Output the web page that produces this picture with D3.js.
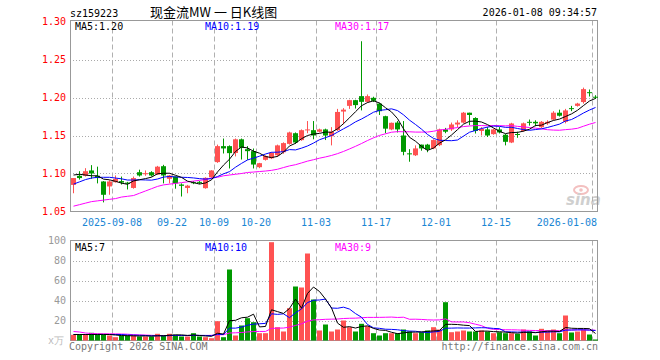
<!DOCTYPE html>
<html><head><meta charset="utf-8">
<script src="https://cdn.jsdelivr.net/npm/d3@7"></script>
<style>
body{margin:0;background:#fff}
svg text{font-family:"DejaVu Sans Mono","Liberation Mono",monospace;font-size:10px}
</style>
</head><body>
<svg id="c" width="660" height="360"></svg>
<script>
// ---------- data ----------
const dates = [
"2025-08-28","2025-08-29","2025-09-01","2025-09-02","2025-09-03","2025-09-04","2025-09-05","2025-09-08","2025-09-09","2025-09-10",
"2025-09-11","2025-09-12","2025-09-15","2025-09-16","2025-09-17","2025-09-18","2025-09-19","2025-09-22","2025-09-23","2025-09-24",
"2025-09-25","2025-09-26","2025-09-29","2025-09-30","2025-10-09","2025-10-10","2025-10-13","2025-10-14","2025-10-15","2025-10-16",
"2025-10-17","2025-10-20","2025-10-21","2025-10-22","2025-10-23","2025-10-24","2025-10-27","2025-10-28","2025-10-29","2025-10-30",
"2025-10-31","2025-11-03","2025-11-04","2025-11-05","2025-11-06","2025-11-07","2025-11-10","2025-11-11","2025-11-12","2025-11-13",
"2025-11-14","2025-11-17","2025-11-18","2025-11-19","2025-11-20","2025-11-21","2025-11-24","2025-11-25","2025-11-26","2025-11-27",
"2025-11-28","2025-12-01","2025-12-02","2025-12-03","2025-12-04","2025-12-05","2025-12-08","2025-12-09","2025-12-10","2025-12-11",
"2025-12-12","2025-12-15","2025-12-16","2025-12-17","2025-12-18","2025-12-19","2025-12-22","2025-12-23","2025-12-24","2025-12-25",
"2025-12-26","2025-12-29","2025-12-30","2025-12-31","2026-01-05","2026-01-06","2026-01-07","2026-01-08"];

const opens = [1.085,1.097,1.097,1.104,1.097,1.0895,1.083,1.0886,1.090,1.088,
1.081,1.1017,1.099,1.1017,1.0987,1.1096,1.093,1.096,1.0855,1.081,
1.0885,1.089,1.0807,1.095,1.115,1.136,1.136,1.127,1.145,1.132,
1.1294,1.1083,1.118,1.120,1.124,1.128,1.139,1.153,1.1439,1.157,
1.157,1.155,1.158,1.149,1.157,1.1815,1.189,1.1965,1.2018,1.1943,
1.1996,1.192,1.1754,1.158,1.167,1.150,1.1265,1.124,1.138,1.138,
1.133,1.1373,1.158,1.158,1.1645,1.167,1.180,1.173,1.156,1.158,
1.1518,1.158,1.151,1.1408,1.152,1.156,1.168,1.168,1.161,1.166,
1.171,1.180,1.168,1.186,1.189,1.194,1.207,1.201];

const highs = [1.094,1.103,1.107,1.111,1.109,1.090,1.091,1.0974,1.096,1.089,
1.096,1.105,1.104,1.103,1.110,1.1114,1.098,1.096,1.087,1.085,
1.090,1.090,1.095,1.1044,1.138,1.146,1.137,1.146,1.146,1.136,
1.1329,1.114,1.124,1.128,1.138,1.141,1.155,1.154,1.158,1.169,
1.169,1.159,1.159,1.161,1.185,1.186,1.197,1.197,1.274,1.204,
1.201,1.193,1.176,1.167,1.169,1.169,1.132,1.137,1.138,1.139,
1.145,1.159,1.160,1.167,1.170,1.181,1.180,1.174,1.161,1.161,
1.159,1.161,1.152,1.1667,1.155,1.167,1.171,1.170,1.169,1.170,
1.182,1.184,1.185,1.189,1.193,1.213,1.2105,1.203];

const lows = [1.074,1.092,1.096,1.093,1.087,1.062,1.072,1.088,1.0855,1.079,
1.080,1.096,1.097,1.096,1.098,1.087,1.087,1.080,1.0697,1.074,
1.086,1.086,1.080,1.094,1.114,1.1263,1.1066,1.1225,1.1184,1.118,
1.1066,1.107,1.117,1.119,1.122,1.126,1.138,1.139,1.143,1.153,
1.145,1.154,1.144,1.137,1.156,1.165,1.185,1.1855,1.183,1.193,
1.194,1.177,1.153,1.157,1.154,1.124,1.1155,1.123,1.130,1.128,
1.132,1.136,1.153,1.156,1.161,1.166,1.1636,1.1526,1.150,1.148,
1.151,1.1527,1.137,1.140,1.147,1.155,1.163,1.162,1.160,1.164,
1.170,1.175,1.166,1.182,1.188,1.192,1.2013,1.198];

const closes = [1.094,1.094,1.103,1.100,1.094,1.072,1.0895,1.093,1.088,1.0865,
1.094,1.0974,1.1005,1.0974,1.109,1.0974,1.0974,1.087,1.0838,1.084,
1.0878,1.088,1.0943,1.104,1.136,1.133,1.1268,1.145,1.1338,1.1294,
1.1118,1.1136,1.123,1.127,1.137,1.140,1.154,1.1408,1.157,1.158,
1.150,1.158,1.150,1.155,1.181,1.184,1.1965,1.190,1.1943,1.2018,
1.1956,1.182,1.159,1.1667,1.158,1.1285,1.126,1.133,1.133,1.1316,
1.144,1.158,1.155,1.1645,1.167,1.180,1.177,1.156,1.1588,1.150,
1.158,1.154,1.1417,1.1658,1.151,1.166,1.167,1.166,1.168,1.168,
1.180,1.176,1.183,1.185,1.192,1.211,1.206,1.200];

// volume (x万)
const volumes = [5.7,5.7,5.7,7.7,5.7,5.7,5,3.3,5,5,
5,4,4,4,6.7,5,6.7,5.7,4,4,
7.3,4,3.3,2.3,19.3,3.3,71,5,15,22.3,
18.3,7.3,7.3,98.3,13.3,9,32.3,54,53,87,
41,10,16,9,11,20,13.3,9,16.7,14.3,
7.3,5,7.3,7.3,7.3,11,9,7.3,8.3,10,
13.3,11,38.3,8.3,9,10,9,9,10,9,
7.3,8.3,7.3,7.3,6.7,11,9,5,11.7,10,
11,7.3,25,8,9,11,6,1];

// moving-average values before enough in-window history
const ma5Head  = [1.098,1.099,1.098,1.097];
const ma10Head = [1.086,1.089,1.092,1.094,1.095,1.095,1.095,1.094,1.093];
const ma30Head = [1.057,1.059,1.061,1.063,1.064,1.065,1.066,1.067,1.069,1.070,
1.071,1.074,1.077,1.080,1.083,1.085,1.086,1.087,1.088,1.089,
1.090,1.091,1.092,1.094,1.095,1.097,1.098,1.099,1.100];
const vma5Head  = [6,6,6,6];
const vma10Head = [6,6,6,6,6,6,6,6,6];
const vma30Head = [9,8.5,7.5,7,6.8,6.7,6.7,6.6,6.5,6.3,5.8,5.6,5.4,5.2,5,5,5,5,5,5,5,5,5,5.2,5.7,5.8,7.5,7.7,8];

const priceTicks = [1.05,1.10,1.15,1.20,1.25,1.30];
const volTicks = [20,40,60,80,100];
const tickDates  = ["2025-09-08","2025-09-22","2025-10-09","2025-10-20","2025-11-03","2025-11-17","2025-12-01","2025-12-15","2026-01-08"];
const tickLabels = ["2025-09-08","09-22","10-09","10-20","11-03","11-17","12-01","12-15","2026-01-08"];
const maNames = ["MA5","MA10","MA30"];
const priceMaLast = ["1.20","1.19","1.17"];
const volMaLast = ["7","10","9"];
const symbol = "sz159223";
const titleText = "现金流MW 一 日K线图";
const stamp = "2026-01-08 09:34:57";

// ---------- drawing ----------
const maColors = ["#000000","#0000ff","#ff00ff"];
const UP = "#ff5252", DOWN = "#009900";
const svg = d3.select("#c");

const x = d3.scaleBand().domain(dates).range([70,598]);
const y = d3.scaleLinear().domain([1.05,1.30]).range([211.5,21.5]);
const yv = d3.scaleLinear().domain([0,100]).range([340.5,240.5]);

function ma(arr, n, head){
  return arr.map((v,i)=> i < n-1 ? head[i] : d3.mean(arr.slice(i-n+1,i+1)));
}

// header
svg.append("text").attr("x",70).attr("y",17).attr("fill","#000").text(symbol);
svg.append("text").attr("x",150).attr("y",17).attr("fill","#000")
  .style("font-family","'Noto Sans CJK SC',sans-serif").style("font-size","13px").text(titleText);
svg.append("text").attr("x",597).attr("y",16).attr("text-anchor","end").attr("fill","#000").text(stamp);

// watermark
const wm = svg.append("g");
wm.append("ellipse").attr("cx",581).attr("cy",190).attr("rx",7).attr("ry",4)
  .attr("fill","none").attr("stroke","#f3c0c0").attr("stroke-width",2);
wm.append("circle").attr("cx",581).attr("cy",190).attr("r",1.8).attr("fill","#f3c0c0");
wm.append("text").attr("x",566).attr("y",205).attr("fill","#cfcfcf")
  .style("font-family","'DejaVu Sans',sans-serif").style("font-size","15px")
  .style("font-style","italic").style("font-weight","bold").text("sina");

function panelGrid(yScale, vals, top, bottom){
  const g = svg.append("g");
  g.selectAll("line.h").data(vals).join("line")
    .attr("x1",70).attr("x2",598)
    .attr("y1",d=>Math.round(yScale(d))+0.5).attr("y2",d=>Math.round(yScale(d))+0.5)
    .attr("stroke","#aaa").attr("stroke-dasharray","1,2");
  g.selectAll("line.v").data(tickDates).join("line")
    .attr("x1",d=>x(d)+0.5).attr("x2",d=>x(d)+0.5)
    .attr("y1",top).attr("y2",bottom)
    .attr("stroke","#b0b0b0").attr("stroke-dasharray","5,3");
  g.append("rect").attr("x",70.5).attr("y",top).attr("width",527).attr("height",bottom-top)
    .attr("fill","none").attr("stroke","#999");
}
panelGrid(y, [1.10,1.15,1.20,1.25], 20.5, 211.5);
panelGrid(yv, [20,40,60,80], 240.5, 340.5);

// axes
const ay = svg.append("g").attr("transform","translate(70,0)")
  .call(d3.axisLeft(y).tickValues(priceTicks).tickFormat(d=>d.toFixed(2)).tickSize(0).tickPadding(4));
ay.select(".domain").remove();
ay.selectAll("text").attr("fill","#ff0000").style("font-family","'DejaVu Sans Mono',monospace").style("font-size","10px");

const av = svg.append("g").attr("transform","translate(70,0)")
  .call(d3.axisLeft(yv).tickValues(volTicks).tickSize(0).tickPadding(4));
av.select(".domain").remove();
av.selectAll("text").attr("fill","#999").style("font-family","'DejaVu Sans Mono',monospace").style("font-size","10px");
svg.append("text").attr("x",64).attr("y",344).attr("text-anchor","end").attr("fill","#bbb").text("x万");

const ax = svg.append("g").attr("transform","translate(-3,211.5)")
  .call(d3.axisBottom(x).tickValues(tickDates).tickFormat((d)=>tickLabels[tickDates.indexOf(d)]).tickSize(0).tickPadding(7));
ax.select(".domain").remove();
ax.selectAll("text").attr("fill","#1a86d4").style("font-family","'DejaVu Sans Mono',monospace").style("font-size","10px");
ax.selectAll(".tick").filter((d,i)=>i===tickDates.length-1).select("text").attr("text-anchor","end").attr("dx",5);

// candles
const idx = d3.range(dates.length);
const cg = svg.append("g");
cg.selectAll("line.w").data(idx).join("line")
  .attr("x1",i=>x(dates[i])+3.5).attr("x2",i=>x(dates[i])+3.5)
  .attr("y1",i=>y(highs[i])).attr("y2",i=>y(lows[i]))
  .attr("stroke",i=>closes[i]>=opens[i]?UP:DOWN);
cg.selectAll("rect").data(idx).join("rect")
  .attr("x",i=>x(dates[i])+1).attr("width",5)
  .attr("y",i=>y(Math.max(opens[i],closes[i])))
  .attr("height",i=>Math.max(1,Math.abs(y(opens[i])-y(closes[i]))))
  .attr("fill",i=>closes[i]>=opens[i]?UP:DOWN);

// volume bars
svg.append("g").selectAll("rect").data(idx).join("rect")
  .attr("x",i=>x(dates[i])+1).attr("width",5)
  .attr("y",i=>yv(volumes[i])).attr("height",i=>yv(0)-yv(volumes[i]))
  .attr("fill",i=>closes[i]>=opens[i]?UP:DOWN);

// MA lines
const priceMA = [ma(closes,5,ma5Head), ma(closes,10,ma10Head), ma(closes,30,ma30Head)];
const volMA = [ma(volumes,5,vma5Head), ma(volumes,10,vma10Head), ma(volumes,30,vma30Head)];
const lp = d3.line().x((d,i)=>x(dates[i])+3.5).y(d=>y(d));
const lv = d3.line().x((d,i)=>x(dates[i])+3.5).y(d=>yv(d));
[2,1,0].forEach(k=>{
  svg.append("path").attr("d",lp(priceMA[k])).attr("fill","none").attr("stroke",maColors[k]).attr("stroke-width",1);
  svg.append("path").attr("d",lv(volMA[k])).attr("fill","none").attr("stroke",maColors[k]).attr("stroke-width",1);
});

// legends
const legX = [75,205,335];
maNames.forEach((n,k)=>{
  svg.append("text").attr("x",legX[k]).attr("y",30).attr("fill",maColors[k]).text(n+":"+priceMaLast[k]);
  svg.append("text").attr("x",legX[k]).attr("y",251).attr("fill",maColors[k]).text(n+":"+volMaLast[k]);
});

// footer
svg.append("text").attr("x",69).attr("y",350).attr("fill","#777").text("Copyright 2026 SINA.COM");
svg.append("text").attr("x",598).attr("y",350).attr("text-anchor","end").attr("fill","#777").text("http://finance.sina.com.cn");
</script>
</body></html>
